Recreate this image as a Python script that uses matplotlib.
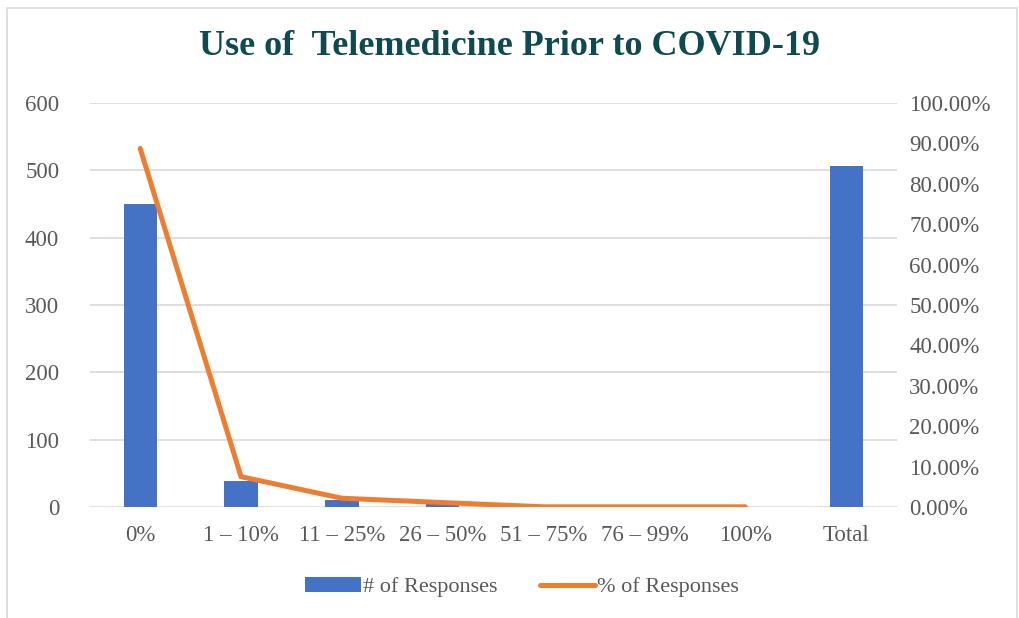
import matplotlib.pyplot as plt
from matplotlib.patches import Rectangle
from matplotlib.ticker import FuncFormatter

categories = ["0%", "1 \u2013 10%", "11 \u2013 25%", "26 \u2013 50%", "51 \u2013 75%", "76 \u2013 99%", "100%", "Total"]
responses = [450, 38, 11, 4, 0, 0, 0, 507]
line_categories = categories[:7]
pct_responses = [88.76, 7.50, 2.17, 1.10, 0.05, 0.05, 0.05]

plt.rcParams['font.family'] = ['Liberation Serif', 'DejaVu Serif']

fig = plt.figure(figsize=(10.2, 6.18), dpi=100)
ax = fig.add_axes([0.088, 0.1796, 0.791, 0.6537])
ax2 = ax.twinx()

x = list(range(len(categories)))
bars = ax.bar(x, responses, width=0.33, color="#4472C4", zorder=2, label="# of Responses")
ax.set_ylim(0, 600)
ax.set_yticks(range(0, 601, 100))
ax.set_xlim(-0.5, len(categories) - 0.5)
ax.set_xticks(x)
ax.set_xticklabels(categories)
ax.grid(axis="y", color="#D9D9D9", linewidth=1.2, zorder=0)
ax.set_axisbelow(True)

line, = ax2.plot(range(len(line_categories)), pct_responses, color="#ED7D31", linewidth=3.6,
                 solid_capstyle="round", solid_joinstyle="miter", label="% of Responses", zorder=3)
ax2.set_ylim(0, 100)
ax2.set_yticks(range(0, 101, 10))
ax2.yaxis.set_major_formatter(FuncFormatter(lambda v, p: f"{v:.2f}%"))

for a in (ax, ax2):
    for s in a.spines.values():
        s.set_visible(False)
    a.tick_params(length=0, labelsize=16.5, labelcolor="#595959")
ax.tick_params(axis="x", pad=13)
ax.tick_params(axis="y", pad=22)
ax2.tick_params(axis="y", pad=9)

fig.text(0.5, 0.925, "Use of  Telemedicine Prior to COVID-19", ha="center", va="center",
         fontsize=26, fontweight="bold", color="#0E4A50")

fig.legend(handles=[bars, line], loc="center", bbox_to_anchor=(0.512, 0.05), ncol=2, frameon=False,
           fontsize=16, labelcolor="#595959", handlelength=2.5, handletextpad=0.1, columnspacing=1.9)

fig.patches.append(Rectangle((0.007, -0.01), 0.99, 0.997, transform=fig.transFigure,
                             fill=False, edgecolor="#D9D9D9", linewidth=1.2))

fig.savefig("out.png", dpi=100)
